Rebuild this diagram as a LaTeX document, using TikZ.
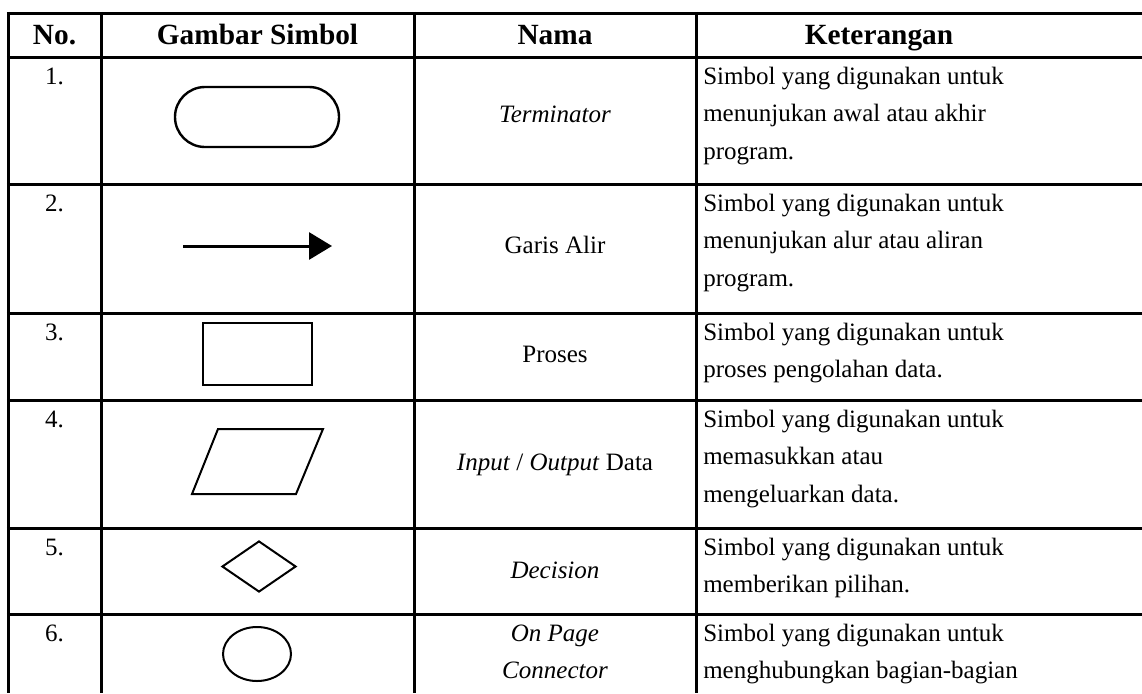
\documentclass[tikz,border=0pt]{standalone}
\usepackage{fontspec}
\setmainfont{Liberation Serif}
\usetikzlibrary{arrows.meta}
\usetikzlibrary{shapes.geometric}
\usetikzlibrary{shapes.misc}

\begin{document}
\begin{tikzpicture}[x=0.75pt,y=-0.75pt,
    rule/.style={line width=2.25pt},
    sym/.style={draw,line width=1.5pt,inner sep=0},
    txt/.style={inner sep=0,font=\fontsize{18.75}{28}\selectfont},
    head/.style={txt,anchor=base,font=\fontsize{22}{28}\selectfont\bfseries},
    num/.style={txt,anchor=base},
    nama/.style={txt,anchor=base,align=center},
    namatwo/.style={txt,anchor=north,align=center},
    ket/.style={txt,anchor=north west,align=left}]
\useasboundingbox (0,0) rectangle (1142,693);

% table rules
\foreach \y in {13,57,184,313,400,528,614}
    \draw [rule] (6.9,\y) -- (1142,\y);
\foreach \x in {8,101,414,696}
    \draw [rule] (\x,11.9) -- (\x,693);

% header
\node [head] (hNo) at (54.5,44) {No.};
\node [head] (hSimbol) at (257.5,44) {Gambar Simbol};
\node [head] (hNama) at (555,44) {Nama};
\node [head] (hKet) at (879,44) {Keterangan};

% numbers
\node [num] (n1) at (54.5,84) {1.};
\node [num] (n2) at (54.5,211) {2.};
\node [num] (n3) at (54.5,340) {3.};
\node [num] (n4) at (54.5,427) {4.};
\node [num] (n5) at (54.5,555) {5.};
\node [num] (n6) at (54.5,641) {6.};

% symbols
\node [sym,line width=1.8pt,rounded rectangle,minimum width=123pt,minimum height=45pt] (term) at (257,117) {};
\coordinate (arrS) at (183,246);
\coordinate (arrE) at (332,246);
\draw [line width=2.25pt,-{Triangle[length=17.25pt,width=20.25pt]}] (arrS) -- (arrE);
\node [sym,rectangle,minimum width=81.75pt,minimum height=46.5pt] (proc) at (257.5,354) {};
\draw [line width=1.5pt,line join=miter] (192,494) -- (218,429) -- (323,429) -- (296,494) -- cycle;
\node [sym,diamond,minimum width=55.5pt,minimum height=38.25pt] (dec) at (259,566.5) {};
\node [sym,ellipse,minimum width=51pt,minimum height=40.5pt] (conn) at (257,654) {};

% names
\node [nama] (nm1) at (555,122) {\itshape Terminator};
\node [nama] (nm2) at (555,253) {Garis Alir};
\node [nama] (nm3) at (555,362) {Proses};
\node [nama] (nm4) at (555,470) {\textit{Input} / \textit{Output} Data};
\node [nama] (nm5) at (555,578) {\itshape Decision};
\node [namatwo] (nm6) at (555,615) {\strut\itshape On Page\\ \itshape Connector};

% descriptions
\node [ket] (k1) at (703,58) {\strut Simbol yang digunakan untuk\\menunjukan awal atau akhir\\program.};
\node [ket] (k2) at (703,185) {\strut Simbol yang digunakan untuk\\menunjukan alur atau aliran\\program.};
\node [ket] (k3) at (703,314) {\strut Simbol yang digunakan untuk\\proses pengolahan data.};
\node [ket] (k4) at (703,401) {\strut Simbol yang digunakan untuk\\memasukkan atau\\mengeluarkan data.};
\node [ket] (k5) at (703,529) {\strut Simbol yang digunakan untuk\\memberikan pilihan.};
\node [ket] (k6) at (703,615) {\strut Simbol yang digunakan untuk\\menghubungkan bagian-bagian};
\end{tikzpicture}
\end{document}
